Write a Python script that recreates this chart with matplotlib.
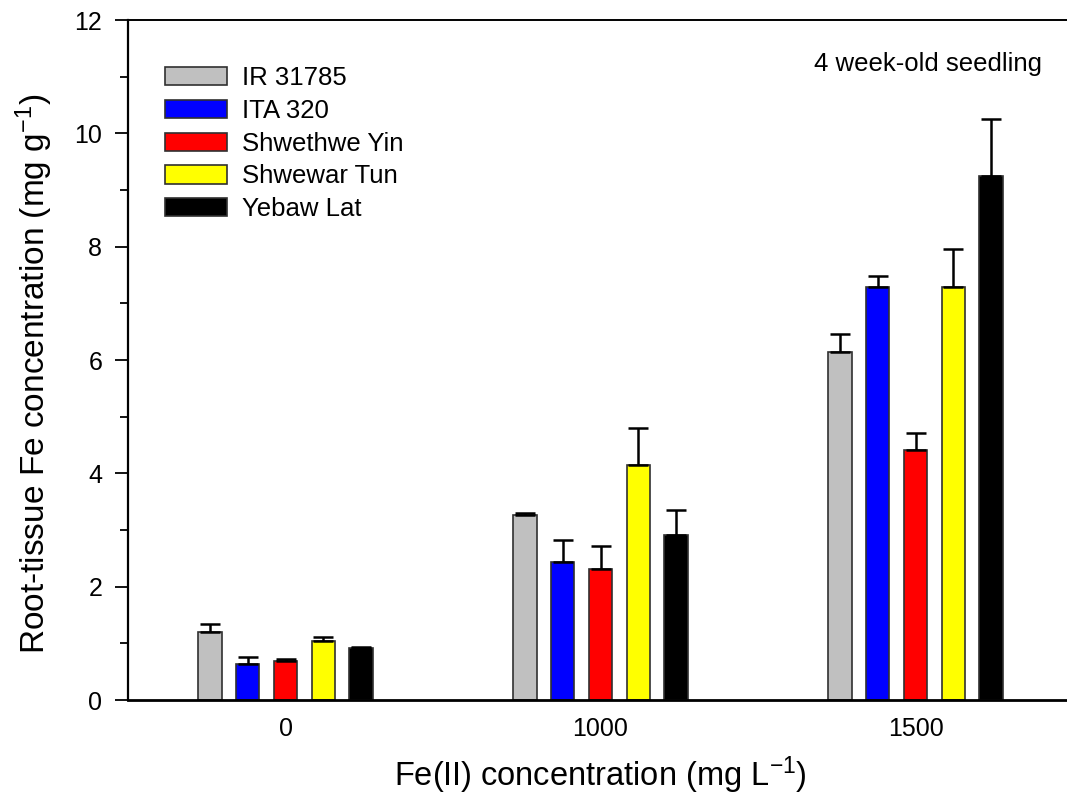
import numpy as np
from matplotlib import pyplot as plt

plt.rcParams['font.family'] = ['Liberation Sans', 'DejaVu Sans']
plt.rcParams['mathtext.default'] = 'regular'

fe_levels = ['0', '1000', '1500']
cultivars = ['IR 31785', 'ITA 320', 'Shwethwe Yin', 'Shwewar Tun', 'Yebaw Lat']
colors = ['#c0c0c0', '#0000ff', '#ff0000', '#ffff00', '#000000']

# mean root Fe (mg/g) per cultivar at 0, 1000, 1500 mg/L
means = [
    [1.20, 3.26, 6.15],
    [0.63, 2.44, 7.29],
    [0.68, 2.31, 4.42],
    [1.04, 4.15, 7.28],
    [0.91, 2.92, 9.24],
]
errs = [
    [0.14, 0.04, 0.31],
    [0.13, 0.39, 0.19],
    [0.04, 0.41, 0.29],
    [0.07, 0.65, 0.68],
    [0.03, 0.43, 1.01],
]

fig = plt.figure(figsize=(10.67, 8.09), dpi=100)
ax = fig.add_axes([128/1067, 109/809, 945/1067, 680/809])

x = np.arange(len(fe_levels))
step = 0.12
width = 0.074
for i, name in enumerate(cultivars):
    pos = x + (i - 2) * step
    e = np.array(errs[i])
    ax.bar(pos, means[i], width, color=colors[i], edgecolor='#303030',
           linewidth=1.2, label=name, zorder=2)
    ax.errorbar(pos, means[i], yerr=[np.zeros_like(e), e], fmt='none',
                ecolor='black', elinewidth=1.8, capsize=7.5, capthick=1.8,
                zorder=3)

ax.set_xlim(-0.5, 2.5)
ax.set_ylim(0, 12)
ax.set_xticks(x)
ax.set_xticklabels(fe_levels)
ax.set_yticks(np.arange(0, 13, 2))
ax.set_yticks(np.arange(1, 12, 2), minor=True)
ax.tick_params(axis='x', length=0, labelsize=18, pad=12)
ax.tick_params(axis='y', which='major', length=9.5, width=1.3, labelsize=18, pad=9)
ax.tick_params(axis='y', which='minor', length=5.5, width=1.3)

ax.spines['right'].set_visible(False)
ax.spines['left'].set_linewidth(1.6)
ax.spines['bottom'].set_linewidth(2)
ax.spines['top'].set_linewidth(1.4)

ax.set_xlabel('Fe(II) concentration (mg L$^{-1}$)', fontsize=23.5)
ax.xaxis.set_label_coords(0.5, -0.08)
ax.set_ylabel('Root-tissue Fe concentration (mg g$^{-1}$)', fontsize=24)
ax.yaxis.set_label_coords(-0.077, 0.48)

ax.legend(loc='upper left', bbox_to_anchor=(0.039, 0.932), frameon=False,
          fontsize=18.5, handlelength=2.4, handleheight=0.72, handletextpad=0.62,
          labelspacing=0.34, borderpad=0, borderaxespad=0)

ax.text(0.847, 0.936, '4 week-old seedling', transform=ax.transAxes,
        ha='center', va='center', fontsize=18.5)

fig.savefig('out.png', dpi=100)
